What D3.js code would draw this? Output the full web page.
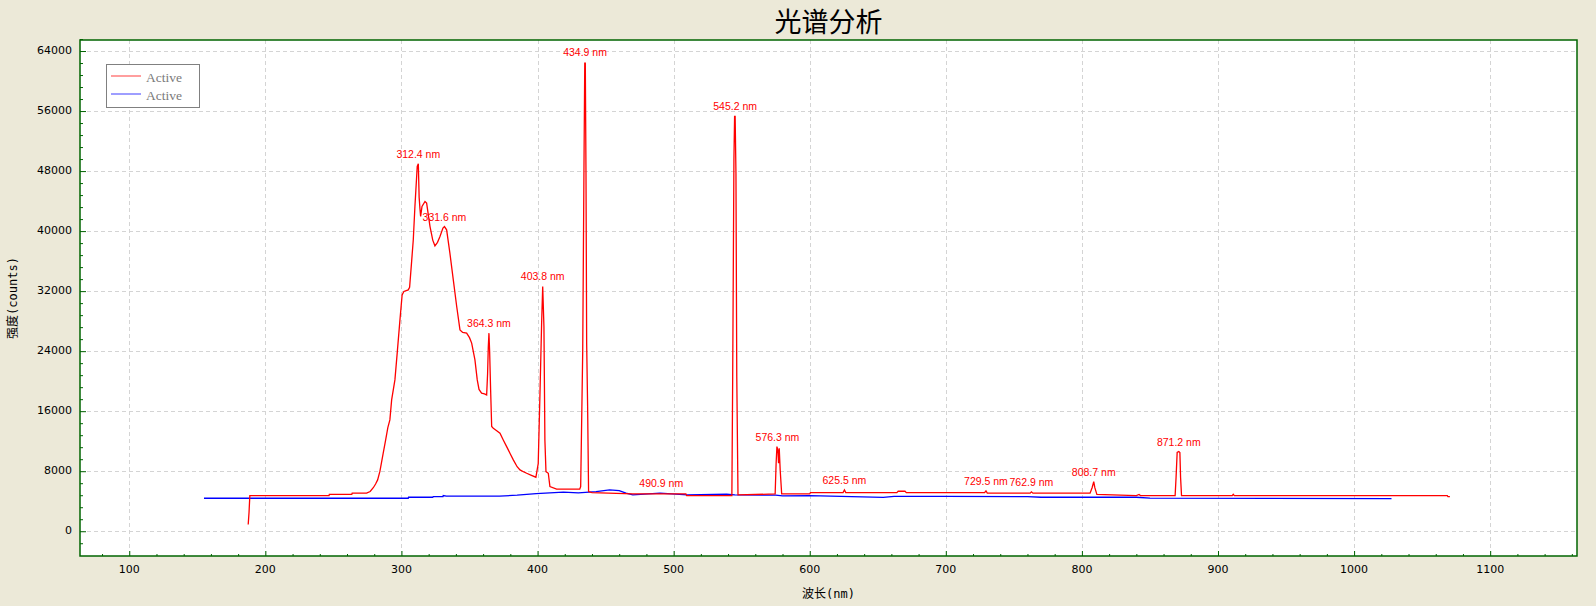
<!DOCTYPE html>
<html>
<head>
<meta charset="utf-8">
<script src="https://cdn.jsdelivr.net/npm/d3@7"></script>
<style>
  html, body { margin: 0; padding: 0; background: #ECE9D8; }
  svg { display: block; }
</style>
</head>
<body>
<svg id="chart" width="1596" height="606"></svg>
<script>
// ---- data ----
const titleText = "光谱分析";
const xLabel = "波长(nm)";
const yLabel = "强度(counts)";
const legendNames = ["Active", "Active"];

const xTicks = [100, 200, 300, 400, 500, 600, 700, 800, 900, 1000, 1100];
const yTicks = [0, 8000, 16000, 24000, 32000, 40000, 48000, 56000, 64000];

const redNm = [187.4,188.0,188.6,246.8,247.0,263.5,263.8,274.4,277.0,279.3,281.0,282.5,284.2,286.6,288.4,290.0,291.5,292.8,295.2,297.0,298.9,300.5,301.8,305.0,306.0,307.5,308.7,309.9,311.6,312.4,313.0,313.6,314.1,315.1,317.3,318.5,321.0,323.0,324.6,326.5,328.3,330.5,331.6,333.2,335.6,338.1,340.6,343.0,345.0,347.9,350.0,351.6,354.0,355.7,357.0,358.9,361.0,362.6,363.3,363.8,364.3,364.8,365.5,366.3,367.5,370.0,372.4,375.0,377.3,380.0,382.2,385.0,387.1,390.0,392.0,395.5,398.8,400.5,401.8,403.0,403.8,404.7,405.4,406.2,407.9,409.1,414.0,431.0,431.7,432.2,433.2,434.1,434.7,435.1,435.6,436.1,436.8,437.5,440.0,470.0,509.0,509.6,542.8,543.4,544.3,544.8,545.2,545.8,546.4,547.3,574.6,575.3,575.9,576.6,577.1,577.6,578.3,579.4,600.0,600.5,624.5,625.5,626.5,664.0,665.0,670.0,671.0,728.5,729.5,730.5,762.0,762.9,764.0,806.0,807.5,808.7,809.5,811.0,840.0,842.0,843.0,868.5,869.2,870.0,871.2,872.0,872.5,873.2,910.5,911.2,912.0,1068.5,1069.0,1070.4];
const redCounts = [900,2500,4750,4750,4900,4900,5070,5070,5300,5800,6300,6840,8000,10400,12170,13800,14840,17500,20170,24000,28170,31500,31950,32170,32500,36000,38840,43280,48610,48970,44500,43000,41950,43280,43950,43730,40610,38800,38040,38500,39280,40400,40610,40170,37070,33510,29950,26840,26500,26400,25800,25070,22840,20170,18900,18400,18300,18170,21000,24500,26400,24000,19000,13950,13730,13400,13070,12100,11280,10300,9510,8600,8170,7900,7730,7450,7200,9000,18400,27730,32620,27280,12170,7950,7730,5950,5600,5600,5950,12000,24000,47950,62400,62400,47950,25000,16600,5280,5150,4970,4970,4750,4750,20600,49500,55300,55300,47700,20600,4840,4970,9000,11280,10800,9070,11070,8170,4970,4970,5150,5150,5510,5150,5150,5330,5330,5150,5150,5370,5070,5070,5250,5070,5070,5800,6620,5800,4900,4750,4900,4750,4750,7200,10500,10620,10500,7200,4750,4750,4930,4750,4750,4600,4600];

const blueNm = [154.9,305.0,305.2,323.0,323.4,330.5,330.7,333.0,350.0,372.0,385.0,399.0,419.0,430.0,443.0,453.0,460.0,465.0,470.0,490.0,510.0,539.0,545.0,575.0,580.0,600.0,654.0,662.0,700.0,760.0,770.0,840.0,850.0,1027.5];
const blueCounts = [4400,4400,4530,4530,4620,4620,4750,4670,4670,4680,4800,5000,5200,5100,5280,5510,5420,5070,4840,5070,4840,4930,4850,4800,4700,4750,4500,4650,4650,4600,4530,4530,4400,4350];

const peakLabels = ["312.4 nm","331.6 nm","364.3 nm","403.8 nm","434.9 nm","490.9 nm","545.2 nm","576.3 nm","625.5 nm","729.5 nm","762.9 nm","808.7 nm","871.2 nm"];
const peakNm =     [312.4, 331.6, 364.3, 403.8, 434.9, 490.9, 545.2, 576.3, 625.5, 729.5, 762.9, 808.7, 871.2];
const peakCounts = [48970, 40610, 26400, 32620, 62480, 5070, 55280, 11280, 5510, 5370, 5250, 6620, 10620];

// ---- layout ----
const svg = d3.select("#chart");
const L = 80, T = 40, R = 1577, B = 556;
const x = d3.scaleLinear().domain([63.8, 1163.8]).range([L, R]);
const y = d3.scaleLinear().domain([-3300, 65470]).range([B, T]);
const green = "#006400";

// plot background
svg.append("rect").attr("x", L).attr("y", T).attr("width", R - L).attr("height", B - T).attr("fill", "#fff");

svg.append("defs").append("clipPath").attr("id", "clip")
  .append("rect").attr("x", L).attr("y", T).attr("width", R - L).attr("height", B - T);

// grid
const grid = svg.append("g").attr("stroke", "#d4d4d4").attr("stroke-dasharray", "4,3").attr("stroke-width", 1);
grid.selectAll("line.vx").data(xTicks).join("line")
  .attr("x1", d => Math.round(x(d)) + 0.5).attr("x2", d => Math.round(x(d)) + 0.5)
  .attr("y1", T).attr("y2", B);
grid.selectAll("line.hy").data(yTicks).join("line")
  .attr("y1", d => Math.round(y(d)) + 0.5).attr("y2", d => Math.round(y(d)) + 0.5)
  .attr("x1", L).attr("x2", R);

// lines
const plot = svg.append("g").attr("clip-path", "url(#clip)");
const line = d3.line().x(d => x(d[0])).y(d => y(d[1]));
const blueData = blueNm.map((v, i) => [v, blueCounts[i]]);
const redData = redNm.map((v, i) => [v, redCounts[i]]);
plot.append("path").datum(blueData).attr("d", line).attr("fill", "none").attr("stroke", "#0000ff").attr("stroke-width", 1.3);
plot.append("path").datum(redData).attr("d", line).attr("fill", "none").attr("stroke", "#ff0000").attr("stroke-width", 1.3);

// peak labels
svg.append("g").selectAll("text").data(peakLabels).join("text")
  .attr("x", (d, i) => x(peakNm[i]))
  .attr("y", (d, i) => y(peakCounts[i]) - 6)
  .attr("text-anchor", "middle")
  .attr("font-family", "'Liberation Sans', Arial, sans-serif")
  .attr("font-size", "10.5px")
  .attr("fill", "#ff0000")
  .text(d => d);

// axes (ticks inward)
const xAxis = d3.axisTop(x).tickValues(xTicks).tickSize(5).tickFormat("");
const xMinor = d3.axisTop(x).tickValues(d3.range(80, 1161, 20).filter(v => v % 100 !== 0)).tickSize(2).tickFormat("");
const yAxis = d3.axisRight(y).tickValues(yTicks).tickSize(6).tickFormat("");
const yMinor = d3.axisRight(y).tickValues(d3.range(-1600, 65601, 1600).filter(v => v % 8000 !== 0)).tickSize(3).tickFormat("");

function styleAxis(g) {
  g.select(".domain").remove();
  g.selectAll(".tick line").attr("stroke", green).attr("stroke-width", 1);
}
svg.append("g").attr("transform", `translate(0,${B})`).call(xAxis).call(styleAxis);
svg.append("g").attr("transform", `translate(0,${B})`).call(xMinor).call(styleAxis);
svg.append("g").attr("transform", `translate(${L},0)`).call(yAxis).call(styleAxis);
svg.append("g").attr("transform", `translate(${L},0)`).call(yMinor).call(styleAxis);

// frame
svg.append("rect").attr("x", L).attr("y", T).attr("width", R - L).attr("height", B - T)
  .attr("fill", "none").attr("stroke", green).attr("stroke-width", 1.5);

// tick labels
const tickFont = "'DejaVu Sans', sans-serif";
svg.append("g").selectAll("text").data(xTicks).join("text")
  .attr("x", d => x(d)).attr("y", B + 14)
  .attr("dominant-baseline", "middle")
  .attr("text-anchor", "middle").attr("font-family", tickFont).attr("font-size", "11px").attr("fill", "#000")
  .text(d => d);
svg.append("g").selectAll("text").data(yTicks).join("text")
  .attr("x", L - 8).attr("y", d => y(d))
  .attr("dominant-baseline", "middle")
  .attr("text-anchor", "end").attr("font-family", tickFont).attr("font-size", "11px").attr("fill", "#000")
  .text(d => d);

// title & axis labels
svg.append("text").attr("x", (L + R) / 2).attr("y", 20)
  .attr("text-anchor", "middle").attr("dominant-baseline", "central")
  .attr("font-family", "'Noto Sans CJK SC', sans-serif").attr("font-size", "27px").attr("fill", "#000")
  .text(titleText);
const labFont = "'DejaVu Sans Mono', 'Noto Sans CJK SC', monospace";
svg.append("text").attr("x", (L + R) / 2).attr("y", 594)
  .attr("text-anchor", "middle").attr("dominant-baseline", "central")
  .attr("font-family", labFont).attr("font-size", "12px").attr("fill", "#000")
  .text(xLabel);
svg.append("text").attr("transform", `translate(13,${(T + B) / 2}) rotate(-90)`)
  .attr("text-anchor", "middle").attr("dominant-baseline", "central")
  .attr("font-family", labFont).attr("font-size", "12px").attr("fill", "#000")
  .text(yLabel);

// legend
const lg = svg.append("g");
lg.append("rect").attr("x", 106.5).attr("y", 64.5).attr("width", 93).attr("height", 43)
  .attr("fill", "#fff").attr("stroke", "#808080").attr("stroke-width", 1);
const legendColors = ["#ff6a6a", "#6a6aff"];
legendNames.forEach((n, i) => {
  const ly = 76 + i * 18;
  lg.append("line").attr("x1", 111).attr("x2", 141).attr("y1", ly).attr("y2", ly)
    .attr("stroke", legendColors[i]).attr("stroke-width", 1.3);
  lg.append("text").attr("x", 146).attr("y", ly + 5.5)
    .attr("font-family", "'Liberation Serif', 'Times New Roman', serif").attr("font-size", "13.5px")
    .attr("fill", "#7a7a7a").text(n);
});
</script>
</body>
</html>
